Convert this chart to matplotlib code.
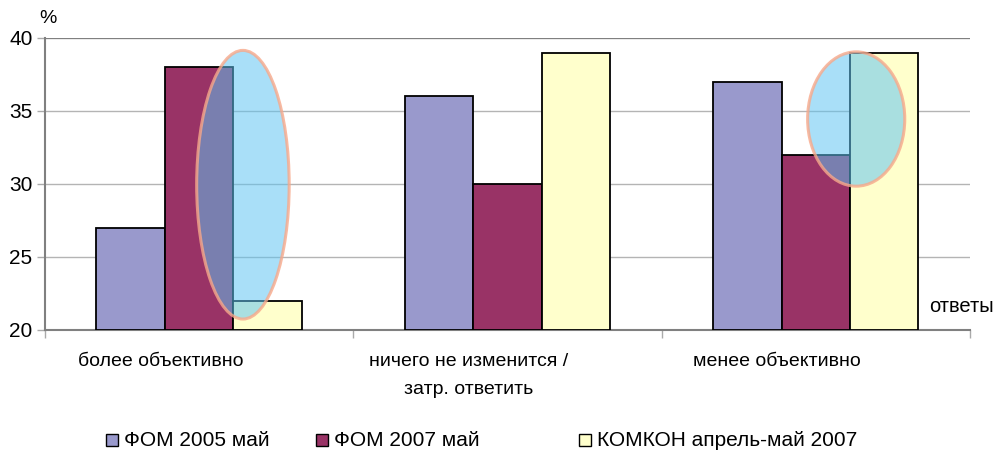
import matplotlib
matplotlib.use('Agg')
import matplotlib.pyplot as plt
from matplotlib.patches import Ellipse, Rectangle
import numpy as np

categories = ['более объективно', 'ничего не изменится /\nзатр. ответить', 'менее объективно']
series_names = ['ФОМ 2005 май', 'ФОМ 2007 май', 'КОМКОН апрель-май 2007']
fom_2005 = [27, 36, 37]
fom_2007 = [38, 30, 32]
komkon_2007 = [22, 39, 39]
yticks = [20, 25, 30, 35, 40]

COLORS = ['#9999CC', '#993366', '#FFFFCC']
FONT = 'Liberation Sans'

fig = plt.figure(figsize=(9.93, 4.5), dpi=100)
ax = fig.add_axes([0.0453, 0.2667, 0.9315, 0.6489])

x = np.arange(len(categories))
w = 0.222
for i, vals in enumerate([fom_2005, fom_2007, komkon_2007]):
    ax.bar(x + (i - 1) * w, np.array(vals) - 20, width=w, bottom=20,
           color=COLORS[i], edgecolor='black', linewidth=1.3, zorder=3)

ax.set_xlim(-0.5, 2.5)
ax.set_ylim(20, 40)
ax.set_yticks(yticks)
ax.set_yticklabels([str(v) for v in yticks], fontsize=15, fontfamily=FONT)
ax.tick_params(axis='y', length=6, width=1, color='#AAAAAA', pad=3)
for v in yticks[1:]:
    ax.axhline(v, color='#B4B4B4', linewidth=1, zorder=1)
ax.axhline(40, color='#808080', linewidth=1.5, zorder=1)

ax.set_xticks([-0.5, 0.5, 1.5, 2.5])
ax.set_xticklabels([])
ax.tick_params(axis='x', length=6, width=1, color='#AAAAAA')
for xc, lab in zip(x, categories):
    ax.text(xc - 0.125, 18.4, lab, ha='center', va='top',
            fontsize=14, fontfamily=FONT, linespacing=1.85)

for s in ['top', 'right']:
    ax.spines[s].set_visible(False)
ax.spines['left'].set_color('#808080')
ax.spines['left'].set_linewidth(1.5)
ax.spines['bottom'].set_color('#808080')
ax.spines['bottom'].set_linewidth(1.5)

# highlight ellipses
for (cx, cy, ew, eh) in [(0.142, 29.95, 0.30, 18.4), (2.131, 34.45, 0.315, 9.2)]:
    ax.add_patch(Ellipse((cx, cy), ew, eh, facecolor=(0.37, 0.77, 0.95, 0.53),
                         edgecolor='none', zorder=4))
    ax.add_patch(Ellipse((cx, cy), ew, eh, facecolor='none',
                         edgecolor=(0.97, 0.66, 0.54, 0.8), linewidth=2.2, zorder=5))

fig.text(0.040, 0.958, '%', fontsize=14, fontfamily=FONT, ha='left', va='center')
fig.text(0.936, 0.318, 'ответы', fontsize=14.5, fontfamily=FONT, ha='left', va='center')

# legend, placed by hand to keep the uneven spacing of the original
legend_x = [112, 322, 585]
for lx, c, name in zip(legend_x, COLORS, series_names):
    fig.patches.append(Rectangle(((lx - 6) / 993, (450 - 446) / 450), 12 / 993, 12 / 450,
                                 facecolor=c, edgecolor='black', linewidth=1,
                                 transform=fig.transFigure, figure=fig))
    fig.text((lx + 12) / 993, (450 - 440) / 450, name, fontsize=15,
             fontfamily=FONT, ha='left', va='center')

fig.savefig('out.png', dpi=100, facecolor='white')
